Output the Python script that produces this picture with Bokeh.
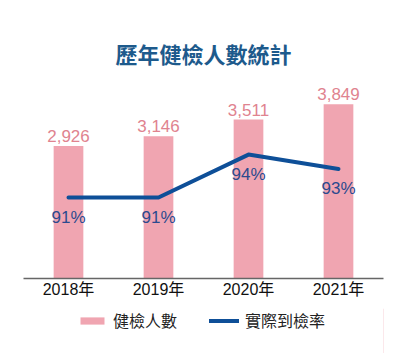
from bokeh.plotting import figure
from bokeh.layouts import column
from bokeh.models import ColumnDataSource, Range1d, Legend, LegendItem, FactorRange
from bokeh.embed import file_html
from bokeh.resources import INLINE
from bokeh.core.properties import value

years = ["2018年", "2019年", "2020年", "2021年"]
counts = [2926, 3146, 3511, 3849]
count_labels = ["2,926", "3,146", "3,511", "3,849"]
rates = [91, 91, 94, 93]
rate_labels = ["91%", "91%", "94%", "93%"]
legend_labels = ["健檢人數", "實際到檢率"]

FONT = "Liberation Sans, Noto Sans CJK TC, sans-serif"
BAR_COLOR = "#f0a5b1"
LINE_COLOR = "#0e4f98"

src = ColumnDataSource(dict(x=years, c=counts, cl=count_labels, r=rates, rl=rate_labels))

p = figure(x_range=FactorRange(*years, range_padding=0), y_range=Range1d(0, 4530),
           frame_width=360, frame_height=205, output_backend="svg",
           toolbar_location=None, y_axis_location=None,
           title="歷年健檢人數統計")
p.min_border_left = 23
p.min_border_right = 24
p.min_border_top = 73
p.min_border_bottom = 30
p.outline_line_color = None
p.xgrid.grid_line_color = None
p.ygrid.grid_line_color = None
p.background_fill_color = "white"
p.border_fill_color = "white"

p.title.align = "center"
p.title.text_font = "Noto Sans CJK TC"
p.title.text_font_size = "22px"
p.title.text_font_style = "bold"
p.title.text_color = "#1d5a8c"

p.extra_y_ranges = {"rate": Range1d(85.35, 99.66)}

p.vbar(x="x", top="c", width=0.33, source=src, fill_color=BAR_COLOR, line_color=None)
p.text(x="x", y="c", text="cl", source=src, text_align="center", text_baseline="alphabetic",
       y_offset=-10, text_font=value(FONT), text_font_size="17px", text_color="#e0838f")

p.line(x="x", y="r", source=src, y_range_name="rate", line_color=LINE_COLOR,
       line_width=4, line_cap="round", line_join="round")
p.text(x="x", y="r", text="rl", source=src, y_range_name="rate", text_align="center",
       text_baseline="middle", y_offset=20, text_font=value(FONT), text_font_size="17px",
       text_color="#2b4a8e")

ax = p.xaxis[0]
ax.axis_line_color = "#666666"
ax.axis_line_width = 1.5
ax.major_tick_line_color = None
ax.minor_tick_line_color = None
ax.major_tick_out = 0
ax.major_tick_in = 0
ax.major_label_standoff = 2
ax.major_label_text_font = FONT
ax.major_label_text_font_size = "16px"
ax.major_label_text_color = "#111111"

# legend strip
lg = figure(width=407, height=45, output_backend="svg", toolbar_location=None,
            x_axis_location=None, y_axis_location=None,
            x_range=Range1d(0, 1), y_range=Range1d(0, 1))
lg.min_border = 0
lg.outline_line_color = None
lg.border_fill_color = "white"
lg.background_fill_color = "white"
lg.xgrid.grid_line_color = None
lg.ygrid.grid_line_color = None
dummy = ColumnDataSource(dict(x=[10], y=[10]))
rb = lg.vbar(x="x", top="y", width=0.3, source=dummy, fill_color=BAR_COLOR, line_color=None)
rl = lg.line(x="x", y="y", source=dummy, line_color=LINE_COLOR, line_width=4, line_cap="round")
legend = Legend(items=[LegendItem(label=legend_labels[0], renderers=[rb]),
                       LegendItem(label=legend_labels[1], renderers=[rl])],
                orientation="horizontal", location=(54, 21),
                glyph_width=30, glyph_height=9, label_standoff=6, spacing=32,
                padding=0, margin=0, border_line_color=None,
                label_text_font=FONT, label_text_font_size="16px",
                label_text_color="#222222", background_fill_alpha=0)
lg.add_layout(legend, "center")

layout = column(p, lg, spacing=0)
open("out.html", "w").write(file_html(layout, INLINE))
